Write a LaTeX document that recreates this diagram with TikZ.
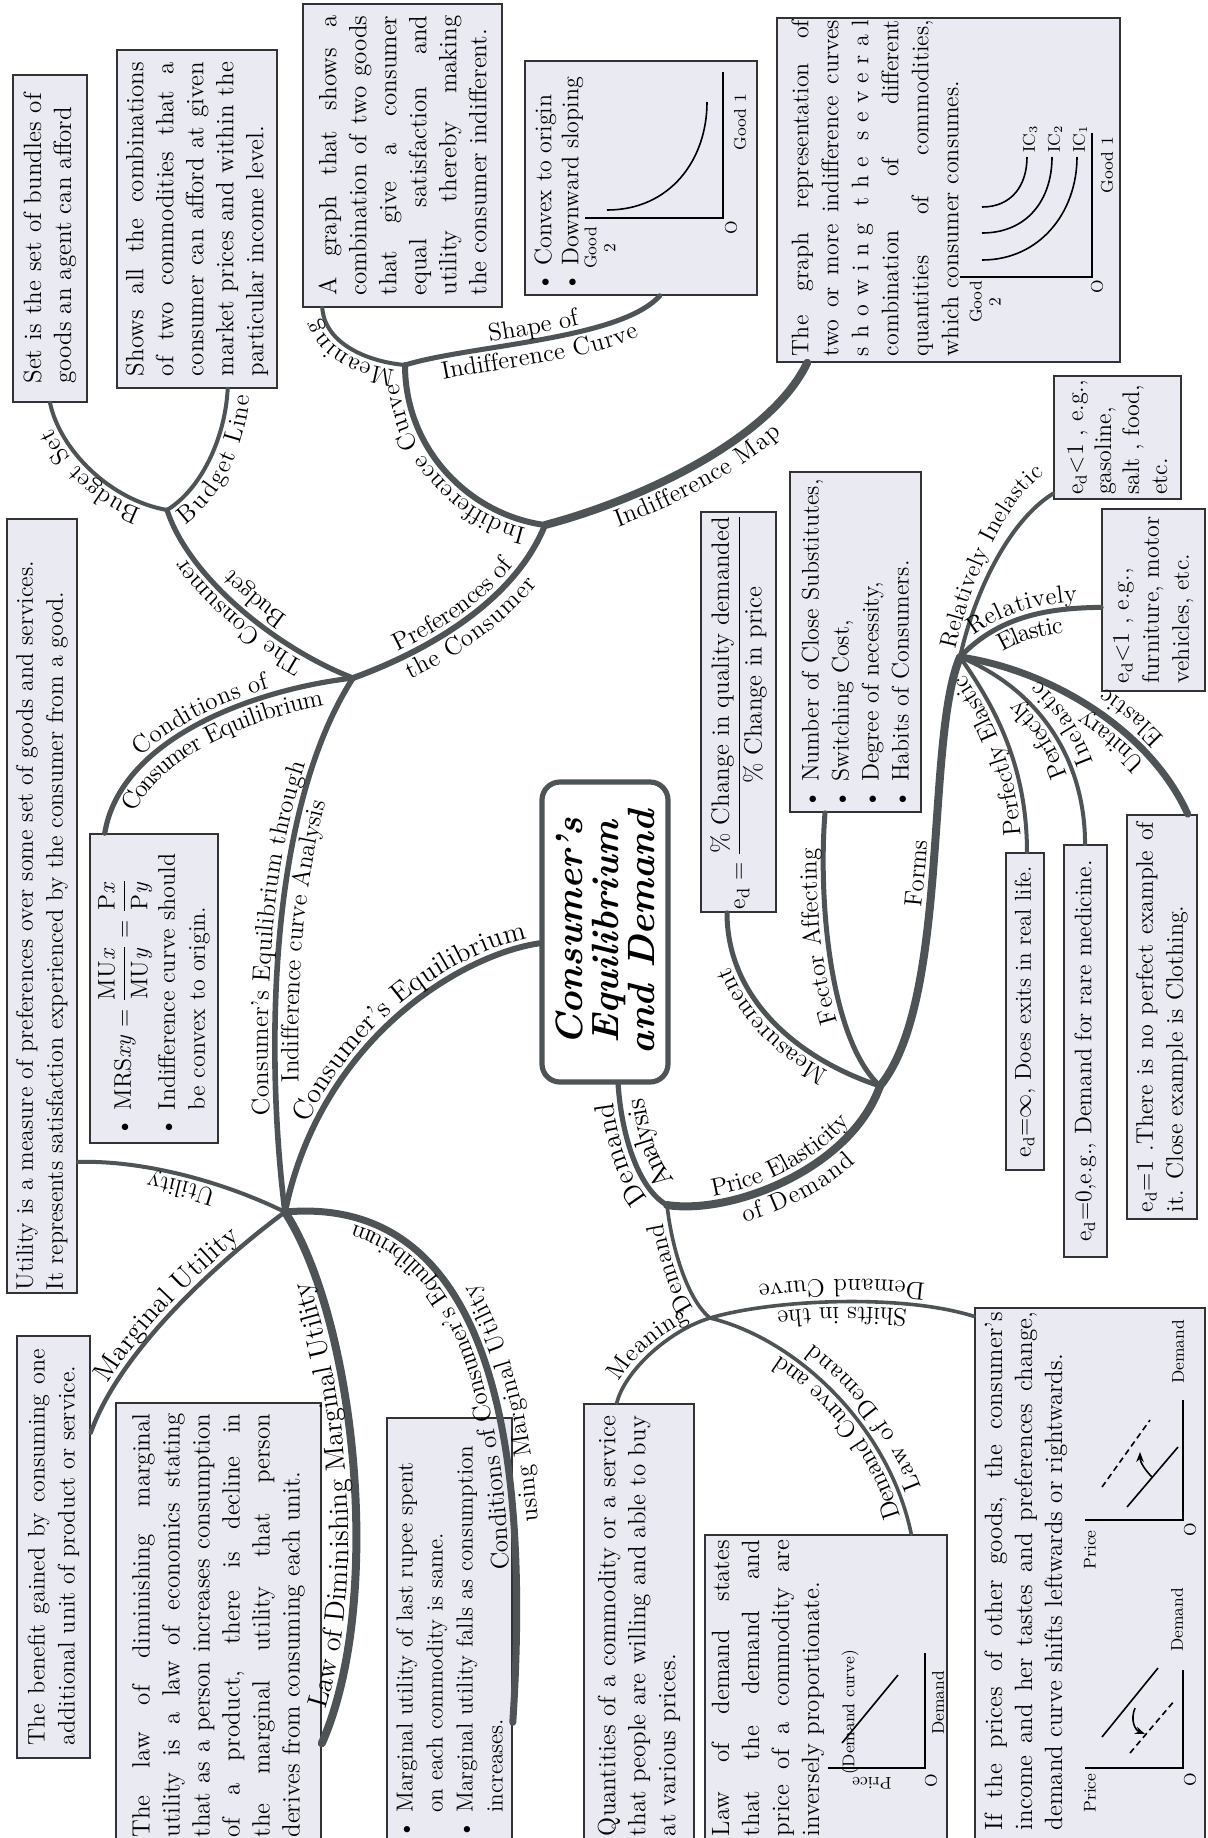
\documentclass[tikz,border=0pt]{standalone}
\usepackage{amsmath}
\usetikzlibrary{decorations.text,calc,arrows.meta}
\definecolor{brc}{RGB}{78,84,86}
\definecolor{boxfill}{RGB}{234,234,242}
\definecolor{boxline}{RGB}{50,50,55}
\newcommand\lblfont{\fontsize{12.5}{14}\selectfont}
\newcommand\biglbl{\fontsize{14}{16}\selectfont}
\newcommand\smlbl{\fontsize{12}{14}\selectfont}
\newcommand\bxfont{\fontsize{12}{15}\selectfont}
\newcommand\bxfontL{\fontsize{12.5}{15}\selectfont}
\newcommand\grfont{\fontsize{8.5}{9.5}\selectfont}
\newcommand\ed{\mathrm{e_d}}
\tikzset{
  br/.style={draw=brc, line width=#1, line cap=round},
  bx/.style={draw=boxline, fill=boxfill, line width=0.8pt, rotate=90, inner sep=0pt, font=\bxfont, align=justify},
  lab/.style 2 args={decorate, decoration={text along path, text={|\lblfont|#1}, text align=center, raise=#2, text color=black}},
  labl/.style n args={3}{decorate, decoration={text along path, text={|\lblfont|#1}, text align={center, left indent=#3}, raise=#2, text color=black}},
  labr/.style n args={3}{decorate, decoration={text along path, text={|\lblfont|#1}, text align={center, right indent=#3}, raise=#2, text color=black}},
  txt/.style={rotate=90, inner sep=0pt, font=\bxfont},
  grl/.style={rotate=90, inner sep=0pt, font=\grfont},
  ax/.style={draw=black, line width=0.7pt},
}
\begin{document}
\begin{tikzpicture}[x=0.5pt,y=-0.5pt]
\useasboundingbox (0,0) rectangle (1207,1838);
\clip (0,0) rectangle (1207,1838);
\fill[white] (0,0) rectangle (1207,1838);

% ---------- junctions ----------
\coordinate (J1) at (353,678);
\coordinate (J2) at (167,510);
\coordinate (J3) at (405,365);
\coordinate (J4) at (545,525);
\coordinate (J5) at (285,1212);
\coordinate (J6) at (667,1205);
\coordinate (J7) at (710,1318);
\coordinate (J8) at (880,1086);
\coordinate (J9) at (960,657);

% ---------- boxes ----------
\node[bx, minimum width=163.5pt, minimum height=37pt, text width=145pt, font=\bxfontL] (A) at (50,238.5)
 {Set is the set of bundles of\linebreak goods an agent can afford};
\node[bx, minimum width=169pt, minimum height=80pt, text width=157pt, font=\bxfontL] (B) at (197,219)
 {Shows all the combinations\linebreak of two commodities that a\linebreak consumer can afford at given\linebreak market prices and within the\linebreak particular income level.};
\node[bx, minimum width=151.5pt, minimum height=99.5pt, text width=140pt, font=\bxfontL] (C) at (402.5,155.5)
 {\parfillskip=0pt A graph that shows a\linebreak combination of two goods\linebreak that give a consumer\linebreak equal satisfaction and\linebreak utility thereby making\linebreak the consumer indifferent.};
\node[bx, minimum width=117pt, minimum height=116pt] (D) at (641,178) {};
\node[bx, minimum width=172pt, minimum height=171.5pt] (E) at (948.5,190) {};
\node[bx, minimum width=61.5pt, minimum height=63.5pt, align=left, font=\fontsize{12}{14}\selectfont] (F) at (1117.5,437.5)
 {$\ed{<}1$ , e.g.,\\gasoline,\\salt , food,\\etc.};
\node[bx, minimum width=91pt, minimum height=51.5pt, align=left, font=\fontsize{12}{15}\selectfont] (G) at (1153.5,600)
 {$\ed{<}1$ , e.g.,\\furniture, motor\\vehicles, etc.};
\node[bx, minimum width=200pt, minimum height=37.5pt, align=center, font=\bxfontL] (H) at (738.5,712)
 {$\ed=\dfrac{\text{\% Change in quality demanded}}{\text{\% Change in price}}$};
\node[bx, minimum width=170pt, minimum height=65.5pt, align=left, text width=166pt] (I) at (855.5,642)
 {\textbullet\ Number of Close Substitutes,\\ \textbullet\ Switching Cost,\\ \textbullet\ Degree of necessity,\\ \textbullet\ Habits of Consumers.};
\node[bx, minimum width=158.5pt, minimum height=19pt, align=center, font=\fontsize{11.5}{13}\selectfont] (J) at (1025,1011.5)
 {$\ed{=}\infty$, Does exits in real life.};
\node[bx, minimum width=206pt, minimum height=21.5pt, align=center] (K) at (1085.5,1051)
 {$\ed{=}0$,e.g., Demand for rare medicine.};
\node[bx, minimum width=202pt, minimum height=35pt, text width=195pt] (L) at (1162,1017)
 {$\ed{=}1$ .There is no perfect example of\linebreak it. Close example is Clothing.};
\node[bx, minimum width=387pt, minimum height=35pt, text width=384pt, align=left] (M) at (42,906)
 {Utility is a measure of preferences over some set of goods and services.\\It represents satisfaction experienced by the consumer from a good.};
\node[bx, minimum width=154.5pt, minimum height=64pt, text width=148pt, align=left] (N) at (154,988.5)
 {\textbullet\ $\mathrm{MRS}\mathit{xy}=\dfrac{\mathrm{MU}\mathit{x}}{\mathrm{MU}\mathit{y}}=\dfrac{\mathrm{P}\mathit{x}}{\mathrm{P}\mathit{y}}$\\[2pt] \textbullet\ Indifference curve should\\ \phantom{\textbullet\ }be convex to origin.};
\node[bx, minimum width=211pt, minimum height=36.5pt, text width=198pt] (O) at (53.5,1547)
 {The benefit gained by consuming one\linebreak additional unit of product or service.};
\node[bx, minimum width=222.5pt, minimum height=102.5pt, text width=212pt, font=\bxfontL] (P) at (218.5,1625.5)
 {The law of diminishing marginal\linebreak utility is a law of economics stating\linebreak that as a person increases consumption\linebreak of a product, there is decline in\linebreak the marginal utility that person\linebreak derives from consuming each unit.};
\node[bx, minimum width=215pt, minimum height=62.5pt, text width=205pt, align=left, font=\fontsize{11.6}{15}\selectfont] (Q) at (449.5,1633)
 {\textbullet\ Marginal utility of last rupee spent\\ \phantom{\textbullet\ }on each commodity is same.\\ \textbullet\ Marginal utility falls as consumption\\ \phantom{\textbullet\ }increases.};
\node[bx, minimum width=222pt, minimum height=55pt, text width=210pt, font=\bxfontL] (R) at (639,1626)
 {Quantities of a commodity or a service\linebreak that people are willing and able to buy\linebreak at various prices.};
\node[bx, minimum width=156.5pt, minimum height=121pt] (S) at (826,1691.5) {};
\node[bx, minimum width=270pt, minimum height=115pt] (T) at (1090,1578) {};

% central topic
\node[rotate=90, draw=brc, line width=2.6pt, fill=white, rounded corners=9pt,
      minimum width=150pt, minimum height=63pt, align=center,
      font=\fontsize{19}{18}\selectfont\bfseries\itshape] (C0) at (605,932)
 {Consumer’s\\Equilibrium\\and Demand};

% ---------- texts and sketches inside boxes ----------
\node[txt, anchor=north west, align=left, font=\fontsize{12}{13.5}\selectfont] (Dt) at (534,292)
 {\textbullet\ Convex to origin\\ \textbullet\ Downward sloping};
\draw[ax] (723,72) -- (723,218) -- (585,218);
\draw[line width=0.8pt] (607,210) .. controls (670,210) and (707,160) .. (707,102);
\node[grl] (Dg1) at (740,122) {Good 1};
\node[grl] (DgO) at (731,228) {O};
\node[grl, align=center] (Dg2) at (600,248) {Good\\2};

\node[txt, anchor=north, text width=168pt, align=justify] (Et) at (791,188)
 {The graph representation of\linebreak two or more indifference curves\linebreak s h o w i n g\hspace{0.7em}t h e\hspace{0.7em}s e v e r a l\linebreak combination of different\linebreak quantities of commodities,\linebreak which consumer consumes.};
\draw[ax] (1092,133) -- (1092,277) -- (960,277);
\draw[line width=0.8pt] (982,260) .. controls (1040,260) and (1077,212) .. (1077,157);
\draw[line width=0.8pt] (982,233) .. controls (1027,233) and (1052,200) .. (1052,157);
\draw[line width=0.8pt] (982,207) .. controls (1012,207) and (1027,185) .. (1027,157);
\node[grl, anchor=west] (Ic1) at (1080,153) {IC$_1$};
\node[grl, anchor=west] (Ic2) at (1055,153) {IC$_2$};
\node[grl, anchor=west] (Ic3) at (1030,153) {IC$_3$};
\node[grl] (Eg1) at (1107,165) {Good 1};
\node[grl] (EgO) at (1097,287) {O};
\node[grl, align=center] (Eg2) at (985,302) {Good\\2};

\node[txt, anchor=north, text width=148pt, align=justify, font=\bxfontL] (St) at (711,1688)
 {Law of demand states\linebreak that the demand and\linebreak price of a commodity are\linebreak inversely proportionate.};
\draw[ax] (925,1653) -- (925,1768) -- (828,1768);
\draw[line width=0.8pt] (842,1743) -- (898,1675);
\node[grl] (Sdc) at (850,1712) {(Demand curve)};
\node[grl] (Sd) at (938,1703) {Demand};
\node[grl] (SO) at (931,1781) {O};
\node[inner sep=0pt, font=\grfont, rotate=180] (Sp) at (872,1783) {Price};

\node[txt, anchor=north, text width=259pt, align=justify, font=\bxfontL] (Tt) at (984,1571)
 {If the prices of other goods, the consumer’s\linebreak income and her tastes and preferences change,\linebreak demand curve shifts leftwards or rightwards.};
% leftward shift
\draw[ax] (1183,1670) -- (1183,1768) -- (1085,1768);
\draw[line width=0.8pt] (1102,1737) -- (1158,1668);
\draw[line width=0.8pt, densely dashed] (1130,1753) -- (1175,1700);
\draw[line width=0.8pt, -{Stealth[length=5pt]}] (1135,1708) .. controls (1130,1720) and (1135,1730) .. (1145,1734);
\node[grl] (T1p) at (1090,1793) {Price};
\node[grl] (T1O) at (1190,1780) {O};
\node[grl] (T1d) at (1177,1620) {Demand};
% rightward shift
\draw[ax] (1183,1400) -- (1183,1520) -- (1085,1520);
\draw[line width=0.8pt] (1127,1507) -- (1178,1447);
\draw[line width=0.8pt, densely dashed] (1102,1487) -- (1150,1420);
\draw[line width=0.8pt, -{Stealth[length=5pt]}] (1152,1477) .. controls (1145,1470) and (1140,1462) .. (1140,1452);
\node[grl] (T2p) at (1090,1550) {Price};
\node[grl] (T2O) at (1190,1530) {O};
\node[grl] (T2d) at (1178,1352) {Demand};

% ---------- connector end points on the boxes ----------
\coordinate (eA) at (A.west);
\coordinate (eB) at ($(B.north west)!0.69!(B.south west)$);
\coordinate (eC) at ($(C.north west)!0.10!(C.south west)$);
\coordinate (eD) at ($(D.north west)!0.58!(D.south west)$);
\coordinate (eE) at ($(E.north west)!0.09!(E.south west)$);
\coordinate (eF) at ($(F.north east)!0.95!(F.north west)$);
\coordinate (eFt) at ($(F.north east)!0.80!(F.north west)$);
\coordinate (eG) at ($(G.north east)!0.54!(G.north west)$);
\coordinate (eH) at ($(H.north west)!0.35!(H.south west)$);
\coordinate (eI) at ($(I.north west)!0.27!(I.south west)$);
\coordinate (eJ) at ($(J.north east)!0.55!(J.south east)$);
\coordinate (eK) at ($(K.north east)!0.49!(K.south east)$);
\coordinate (eL) at ($(L.north east)!0.86!(L.south east)$);
\coordinate (eM) at ($(M.south east)!0.83!(M.south west)$);
\coordinate (eN) at ($(N.north east)!0.12!(N.south east)$);
\coordinate (eO) at ($(O.south east)!0.23!(O.south west)$);
\coordinate (eP) at ($(P.south east)!0.764!(P.south west)$);
\coordinate (eQ) at ($(Q.south east)!0.707!(Q.south west)$);
\coordinate (eR) at ($(R.north east)!0.30!(R.south east)$);
\coordinate (eS) at ($(S.north east)!0.85!(S.south east)$);
\coordinate (eT) at ($(T.north east)!0.017!(T.north west)$);
\coordinate (eCa) at ($(C0.north east)!0.537!(C0.north west)$);
\coordinate (eCb) at ($(C0.north west)!0.60!(C0.south west)$);

% ---------- branches ----------
\draw[br=3pt] (eCa) .. controls (460,955) and (320,1040) .. (J5);
\draw[br=2.8pt] (J5) .. controls (268,1080) and (262,820) .. (J1);
\draw[br=2.6pt] (J1) .. controls (250,690) and (120,740) .. (eN);
\draw[br=3pt] (J1) .. controls (430,650) and (515,600) .. (J4);
\draw[br=2.6pt] (J1) .. controls (280,650) and (190,580) .. (J2);
\draw[br=2pt] (J2) .. controls (110,500) and (60,450) .. (eA);
\draw[br=2pt] (J2) .. controls (200,490) and (225,440) .. (eB);
\draw[br=3pt] (J4) .. controls (470,515) and (405,450) .. (J3);
\draw[br=2pt] (J3) .. controls (370,362) and (325,345) .. (eC);
\draw[br=2.5pt] (J3) .. controls (470,345) and (620,340) .. (eD);
\draw[br=4pt] (J4) .. controls (640,500) and (770,440) .. (eE);
\draw[br=2.6pt] (eCb) .. controls (622,1140) and (640,1190) .. (J6);
\draw[br=4pt] (J6) .. controls (730,1215) and (850,1170) .. (J8);
\draw[br=2.5pt] (J8) .. controls (800,1060) and (727,1000) .. (eH);
\draw[br=2.5pt] (J8) .. controls (830,1040) and (818,900) .. (eI);
\draw[br=4pt] (J8) .. controls (950,1000) and (925,740) .. (J9);
\draw[br=2pt] (J9) .. controls (975,590) and (1010,520) .. (eF);
\draw[br=2.5pt] (J9) .. controls (1000,615) and (1050,608) .. (eG);
\draw[br=2pt] (J9) .. controls (990,700) and (1027,760) .. (eJ);
\draw[br=2pt] (J9) .. controls (1040,690) and (1085,760) .. (eK);
\draw[br=3.5pt] (J9) .. controls (1050,670) and (1150,730) .. (eL);
\draw[br=1.8pt] (J6) .. controls (672,1250) and (688,1300) .. (J7);
\draw[br=1.8pt] (J7) .. controls (670,1330) and (625,1370) .. (eR);
\draw[br=1.8pt] (J7) .. controls (800,1340) and (890,1430) .. (eS);
\draw[br=1.8pt] (J7) .. controls (770,1300) and (900,1293) .. (eT);
\draw[br=2pt] (J5) .. controls (220,1180) and (140,1160) .. (eM);
\draw[br=2.2pt] (J5) .. controls (220,1260) and (120,1350) .. (eO);
\draw[br=4pt] (J5) .. controls (355,1320) and (385,1600) .. (eP);
\draw[br=3.5pt] (J5) .. controls (420,1200) and (540,1300) .. (eQ);

% ---------- branch labels ----------
\path[labl={|\biglbl|Consumer’s Equilibrium}{3.5pt}{40pt}] (J5) .. controls (320,1040) and (460,955) .. (eCa);
\path[lab={Consumer’s Equilibrium through}{3.5pt}] (J5) .. controls (268,1080) and (262,820) .. (J1);
\path[lab={Indifference curve Analysis}{-11.7pt}] (J5) .. controls (268,1080) and (262,820) .. (J1);
\path[lab={Conditions of}{3.3pt}] (eN) .. controls (120,740) and (250,690) .. (J1);
\path[lab={Consumer Equilibrium}{-11.5pt}] (eN) .. controls (120,740) and (250,690) .. (J1);
\path[lab={Preferences of}{3.5pt}] (J1) .. controls (430,650) and (515,600) .. (J4);
\path[lab={the Consumer}{-11.7pt}] (J1) .. controls (430,650) and (515,600) .. (J4);
\path[lab={The Consumer}{3.3pt}] (J1) .. controls (280,650) and (190,580) .. (J2);
\path[lab={Budget}{-11.5pt}] (J1) .. controls (280,650) and (190,580) .. (J2);
\path[lab={Budget Set}{3pt}] (J2) .. controls (110,500) and (60,450) .. (eA);
\path[lab={Budget Line}{-11.2pt}] (J2) .. controls (200,490) and (225,440) .. (eB);
\path[lab={Indifference Curve}{3.5pt}] (J4) .. controls (470,515) and (405,450) .. (J3);
\path[lab={Meaning}{3pt}] (J3) .. controls (370,362) and (325,345) .. (eC);
\path[lab={Shape of}{3.3pt}] (J3) .. controls (470,345) and (620,340) .. (eD);
\path[lab={Indifference Curve}{-11.5pt}] (J3) .. controls (470,345) and (620,340) .. (eD);
\path[lab={Indifference Map}{-12.2pt}] (J4) .. controls (640,500) and (770,440) .. (eE);
\path[lab={|\biglbl|Demand}{3.3pt}] (J6) .. controls (640,1190) and (622,1140) .. (eCb);
\path[lab={|\biglbl|Analysis}{-12.5pt}] (J6) .. controls (640,1190) and (622,1140) .. (eCb);
\path[lab={Price Elasticity}{4pt}] (J6) .. controls (730,1215) and (850,1170) .. (J8);
\path[lab={of Demand}{-12.2pt}] (J6) .. controls (730,1215) and (850,1170) .. (J8);
\path[lab={Measurement}{3.3pt}] (J8) .. controls (800,1060) and (727,1000) .. (eH);
\path[labl={Fector Affecting}{3.3pt}{20pt}] (J8) .. controls (830,1040) and (818,900) .. (eI);
\path[lab={Forms}{4pt}] (J8) .. controls (950,1000) and (925,740) .. (J9);
\path[lab={|\smlbl|Relatively Inelastic}{3pt}] (J9) .. controls (975,585) and (1012,500) .. (eFt);
\path[lab={Relatively}{3.3pt}] (J9) .. controls (1000,615) and (1050,608) .. (eG);
\path[lab={Elastic}{-11.5pt}] (J9) .. controls (1000,615) and (1050,608) .. (eG);
\path[lab={Perfectly Elastic}{3pt}] (eJ) .. controls (1027,760) and (990,700) .. (J9);
\path[lab={Perfectly}{3pt}] (eK) .. controls (1085,760) and (1040,690) .. (J9);
\path[lab={Inelastic}{-11.2pt}] (eK) .. controls (1085,760) and (1040,690) .. (J9);
\path[labr={Unitary}{3.8pt}{35pt}] (eL) .. controls (1150,730) and (1050,670) .. (J9);
\path[labr={Elastic}{-12pt}{35pt}] (eL) .. controls (1150,730) and (1050,670) .. (J9);
\path[lab={Demand}{3pt}] (J7) .. controls (688,1300) and (672,1250) .. (J6);
\path[lab={Meaning}{3pt}] (eR) .. controls (625,1370) and (670,1330) .. (J7);
\path[labr={Demand Curve and}{3pt}{30pt}] (eS) .. controls (890,1430) and (800,1340) .. (J7);
\path[labr={Law of Demand}{-11.2pt}{30pt}] (eS) .. controls (890,1430) and (800,1340) .. (J7);
\path[lab={Shifts in the}{3pt}] (eT) .. controls (900,1293) and (770,1300) .. (J7);
\path[lab={Demand Curve}{-11.2pt}] (eT) .. controls (900,1293) and (770,1300) .. (J7);
\path[lab={Utility}{3pt}] (J5) .. controls (220,1180) and (140,1160) .. (eM);
\path[lab={|\biglbl|Marginal Utility}{3.3pt}] (eO) .. controls (120,1350) and (220,1260) .. (J5);
\path[labr={|\biglbl|Law of Diminishing Marginal Utility}{4pt}{20pt}] (eP) .. controls (385,1600) and (355,1320) .. (J5);
\path[labl={Conditions of Consumer’s Equilibrium}{3.8pt}{40pt}] (eQ) .. controls (540,1300) and (420,1200) .. (J5);
\path[lab={using Marginal Utility}{-12pt}] (eQ) .. controls (540,1300) and (420,1200) .. (J5);
\end{tikzpicture}
\end{document}
